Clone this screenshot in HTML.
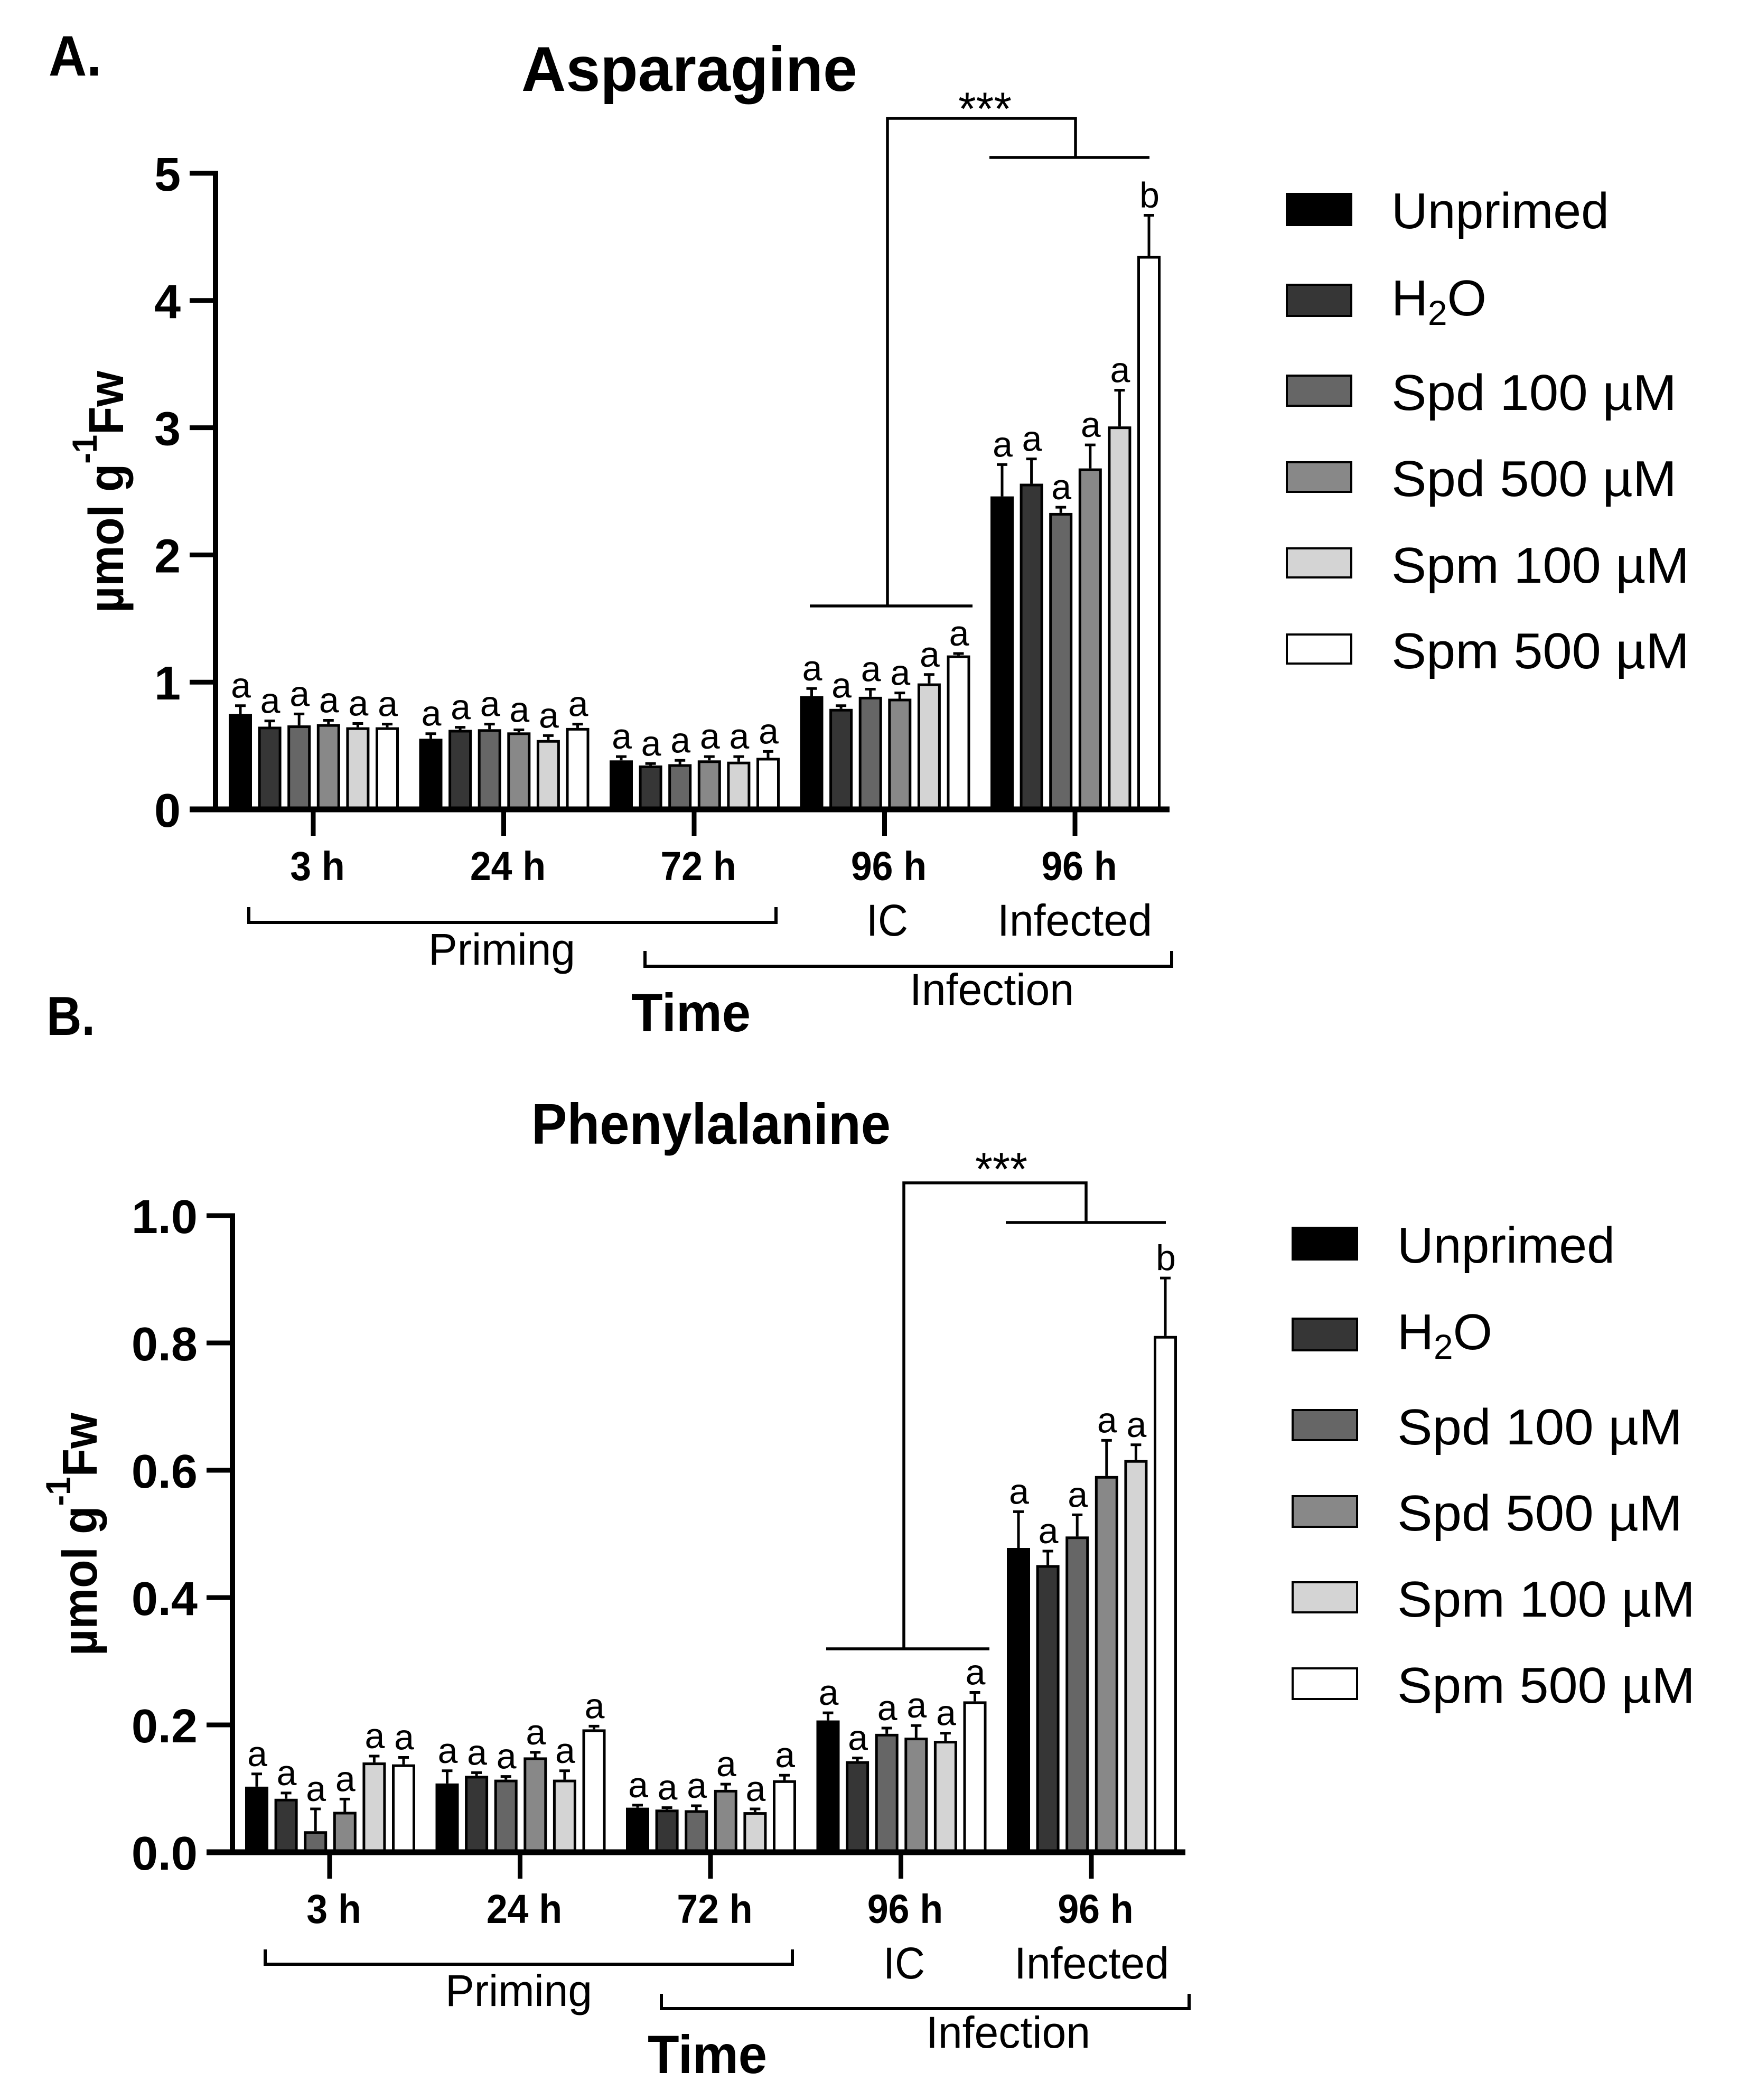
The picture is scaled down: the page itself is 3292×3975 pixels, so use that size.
<!DOCTYPE html>
<html lang="en">
<head>
<meta charset="utf-8">
<title>Asparagine and Phenylalanine</title>
<style>
html,body{margin:0;padding:0;background:#fff;}
svg{display:block;font-family:"Liberation Sans",Arial,sans-serif;}
.bold{font-weight:700;}
</style>
</head>
<body>
<svg id="figure" xmlns="http://www.w3.org/2000/svg" width="3292" height="3975" viewBox="0 0 3292 3975">
<rect width="3292" height="3975" fill="#fff"/>

<!-- Panel A static -->
<g id="panel-a">
  <text class="bold" x="92" y="143" font-size="108" textLength="100" lengthAdjust="spacingAndGlyphs">A.</text>
  <text class="bold" x="987" y="172" font-size="120" textLength="636" lengthAdjust="spacingAndGlyphs">Asparagine</text>
  <text class="bold" transform="translate(233 1160) rotate(-90)" font-size="93" textLength="458" lengthAdjust="spacingAndGlyphs">µmol g<tspan font-size="66" dy="-50">-1</tspan><tspan dy="50">Fw</tspan></text>
  <text class="bold" x="1195" y="1952" font-size="102" textLength="226" lengthAdjust="spacingAndGlyphs">Time</text>
  <path d="M471 1717V1746H1469V1717" fill="none" stroke="#000" stroke-width="6"/>
  <text x="811" y="1826" font-size="84" textLength="278" lengthAdjust="spacingAndGlyphs">Priming</text>
  <path d="M1221 1800V1829H2218V1800" fill="none" stroke="#000" stroke-width="6"/>
  <text x="1722" y="1902" font-size="84" textLength="311" lengthAdjust="spacingAndGlyphs">Infection</text>
  <text x="1640" y="1771" font-size="84" textLength="79" lengthAdjust="spacingAndGlyphs">IC</text>
  <text x="1888" y="1771" font-size="84" textLength="293" lengthAdjust="spacingAndGlyphs">Infected</text>
  <text x="1814" y="236" font-size="88" textLength="101" lengthAdjust="spacingAndGlyphs">***</text>
  <path d="M1533 1147H1841M1680 1147V224H2036V298M1873 298H2176" fill="none" stroke="#000" stroke-width="5.5"/>
  <g>
    <rect x="2436" y="367" width="122" height="59" fill="#000" stroke="#000" stroke-width="4"/>
    <text x="2634" y="432" font-size="96" textLength="412" lengthAdjust="spacingAndGlyphs">Unprimed</text>
    <rect x="2436" y="539" width="122" height="59" fill="#363636" stroke="#000" stroke-width="4"/>
    <text x="2634" y="597" font-size="96" textLength="180" lengthAdjust="spacingAndGlyphs">H<tspan font-size="66" dy="18">2</tspan><tspan dy="-18">O</tspan></text>
    <rect x="2436" y="711" width="122" height="57" fill="#666" stroke="#000" stroke-width="4"/>
    <text x="2634" y="776" font-size="96" textLength="540" lengthAdjust="spacingAndGlyphs">Spd 100 µM</text>
    <rect x="2436" y="875" width="122" height="56" fill="#888" stroke="#000" stroke-width="4"/>
    <text x="2634" y="939" font-size="96" textLength="540" lengthAdjust="spacingAndGlyphs">Spd 500 µM</text>
    <rect x="2436" y="1038" width="122" height="55" fill="#d4d4d4" stroke="#000" stroke-width="4"/>
    <text x="2634" y="1103" font-size="96" textLength="564" lengthAdjust="spacingAndGlyphs">Spm 100 µM</text>
    <rect x="2436" y="1201" width="122" height="55" fill="#fff" stroke="#000" stroke-width="4"/>
    <text x="2634" y="1265" font-size="96" textLength="564" lengthAdjust="spacingAndGlyphs">Spm 500 µM</text>
  </g>
</g>

<!-- Panel B static -->
<g id="panel-b">
  <text class="bold" x="88" y="1959" font-size="104" textLength="92" lengthAdjust="spacingAndGlyphs">B.</text>
  <text class="bold" x="1006" y="2165" font-size="109" textLength="680" lengthAdjust="spacingAndGlyphs">Phenylalanine</text>
  <text class="bold" transform="translate(183 3134) rotate(-90)" font-size="93" textLength="460" lengthAdjust="spacingAndGlyphs">µmol g<tspan font-size="66" dy="-50">-1</tspan><tspan dy="50">Fw</tspan></text>
  <text class="bold" x="1226" y="3924" font-size="102" textLength="226" lengthAdjust="spacingAndGlyphs">Time</text>
  <path d="M502 3690V3718H1500V3690" fill="none" stroke="#000" stroke-width="6"/>
  <text x="843" y="3797" font-size="84" textLength="278" lengthAdjust="spacingAndGlyphs">Priming</text>
  <path d="M1252 3774V3802H2251V3774" fill="none" stroke="#000" stroke-width="6"/>
  <text x="1753" y="3876" font-size="84" textLength="311" lengthAdjust="spacingAndGlyphs">Infection</text>
  <text x="1672" y="3745" font-size="84" textLength="79" lengthAdjust="spacingAndGlyphs">IC</text>
  <text x="1920" y="3745" font-size="84" textLength="293" lengthAdjust="spacingAndGlyphs">Infected</text>
  <text x="1846" y="2243" font-size="88" textLength="99" lengthAdjust="spacingAndGlyphs">***</text>
  <path d="M1564 3121H1873M1711 3121V2239H2056V2314M1904 2314H2207" fill="none" stroke="#000" stroke-width="5.5"/>
  <g>
    <rect x="2447" y="2324" width="122" height="60" fill="#000" stroke="#000" stroke-width="4"/>
    <text x="2645" y="2390" font-size="96" textLength="412" lengthAdjust="spacingAndGlyphs">Unprimed</text>
    <rect x="2447" y="2496" width="122" height="60" fill="#363636" stroke="#000" stroke-width="4"/>
    <text x="2645" y="2554" font-size="96" textLength="180" lengthAdjust="spacingAndGlyphs">H<tspan font-size="66" dy="18">2</tspan><tspan dy="-18">O</tspan></text>
    <rect x="2447" y="2669" width="122" height="57" fill="#666" stroke="#000" stroke-width="4"/>
    <text x="2645" y="2734" font-size="96" textLength="540" lengthAdjust="spacingAndGlyphs">Spd 100 µM</text>
    <rect x="2447" y="2832" width="122" height="58" fill="#888" stroke="#000" stroke-width="4"/>
    <text x="2645" y="2897" font-size="96" textLength="540" lengthAdjust="spacingAndGlyphs">Spd 500 µM</text>
    <rect x="2447" y="2995" width="122" height="57" fill="#d4d4d4" stroke="#000" stroke-width="4"/>
    <text x="2645" y="3060" font-size="96" textLength="564" lengthAdjust="spacingAndGlyphs">Spm 100 µM</text>
    <rect x="2447" y="3158" width="122" height="58" fill="#fff" stroke="#000" stroke-width="4"/>
    <text x="2645" y="3223" font-size="96" textLength="564" lengthAdjust="spacingAndGlyphs">Spm 500 µM</text>
  </g>
</g>

<g id="plot-a"></g>
<g id="plot-b"></g>
</svg>

<script>
// Shared categories
const timeLabels = ['3 h', '24 h', '72 h', '96 h', '96 h'];
const seriesNames = ['unprimed', 'h2o', 'spd-100', 'spd-500', 'spm-100', 'spm-500'];
const seriesFills = ['#000000', '#363636', '#666666', '#888888', '#d4d4d4', '#ffffff'];

// Asparagine: means by series across the five time points
const asnUnprimed = [0.75, 0.555, 0.385, 0.89, 2.46];
const asnH2o      = [0.65, 0.625, 0.345, 0.79, 2.56];
const asnSpd100   = [0.66, 0.63, 0.355, 0.885, 2.33];
const asnSpd500   = [0.67, 0.605, 0.385, 0.87, 2.68];
const asnSpm100   = [0.645, 0.545, 0.375, 0.99, 3.01];
const asnSpm500   = [0.645, 0.64, 0.405, 1.21, 4.35];
// Asparagine: error bar sizes
const asnUnprimedErr = [0.065, 0.04, 0.03, 0.06, 0.25];
const asnH2oErr      = [0.045, 0.02, 0.015, 0.025, 0.195];
const asnSpd100Err   = [0.09, 0.04, 0.03, 0.06, 0.045];
const asnSpd500Err   = [0.03, 0.02, 0.03, 0.045, 0.185];
const asnSpm100Err   = [0.03, 0.035, 0.04, 0.07, 0.285];
const asnSpm500Err   = [0.025, 0.03, 0.05, 0.015, 0.32];
const asnTicks = [0, 1, 2, 3, 4, 5];

// Phenylalanine: means by series
const pheUnprimed = [0.103, 0.108, 0.070, 0.207, 0.478];
const pheH2o      = [0.084, 0.120, 0.067, 0.143, 0.451];
const pheSpd100   = [0.033, 0.114, 0.066, 0.186, 0.496];
const pheSpd500   = [0.0635, 0.149, 0.098, 0.180, 0.591];
const pheSpm100   = [0.141, 0.114, 0.063, 0.175, 0.616];
const pheSpm500   = [0.138, 0.193, 0.113, 0.237, 0.811];
// Phenylalanine: error bar sizes
const pheUnprimedErr = [0.020, 0.020, 0.004, 0.012, 0.057];
const pheH2oErr      = [0.009, 0.005, 0.003, 0.005, 0.022];
const pheSpd100Err   = [0.035, 0.005, 0.007, 0.009, 0.034];
const pheSpd500Err   = [0.020, 0.008, 0.009, 0.019, 0.056];
const pheSpm100Err   = [0.010, 0.014, 0.005, 0.012, 0.024];
const pheSpm500Err   = [0.011, 0.005, 0.008, 0.014, 0.091];
const pheTicks = [0, 0.2, 0.4, 0.6, 0.8, 1.0];

// Significance letters: the last bar of the last group differs
const groupLetters = ['a', 'a', 'a', 'a', 'a'];
const lastGroupLetters = ['a', 'a', 'a', 'a', 'a', 'b'];

const SVGNS = 'http://www.w3.org/2000/svg';

function make(parent, tag, attrs, text) {
  const el = document.createElementNS(SVGNS, tag);
  for (const k in attrs) el.setAttribute(k, attrs[k]);
  if (text !== undefined) el.textContent = text;
  parent.appendChild(el);
  return el;
}

function drawChart(root, cfg) {
  const yScale = function (v) { return cfg.y0 - (v / cfg.yMax) * cfg.yHeight; };
  const barLeft = function (g, s) { return cfg.barStart + g * 360.5 + s * 55.6; };
  const tickX = function (g) { return cfg.barStart + 160 + g * 360.5; };
  const barWidth = 44;
  const stroke = 5;

  cfg.means.forEach(function (series, s) {
    series.forEach(function (v, g) {
      const left = barLeft(g, s);
      const top = yScale(v);
      const cx = left + barWidth / 2;
      const errTop = yScale(v + cfg.errs[s][g]);

      const whisker = make(root, 'path', {
        d: 'M' + cx + ' ' + top + 'V' + errTop + 'M' + (cx - 10) + ' ' + errTop + 'H' + (cx + 10),
        fill: 'none', stroke: '#000', 'stroke-width': stroke
      });
      
      

      const bar = make(root, 'rect', {
        x: left + stroke / 2, y: top + stroke / 2,
        width: barWidth - stroke, height: Math.max(0, cfg.y0 - top - stroke / 2),
        fill: seriesFills[s], stroke: '#000', 'stroke-width': stroke
      });
      
      

      const letter = g === series.length - 1 ? lastGroupLetters[s] : groupLetters[g];
      const mark = make(root, 'text', {
        x: cx + 1, y: errTop - 15, 'font-size': 68, 'text-anchor': 'middle'
      }, letter);
      
      
    });
  });

  // y axis
  const yAxis = make(root, 'line', {
    x1: cfg.axisX, x2: cfg.axisX, y1: yScale(cfg.yMax) - 4.5, y2: cfg.y0 + 5, stroke: '#000', 'stroke-width': 10
  });
  
  

  cfg.ticks.forEach(function (t) {
    const tick = make(root, 'line', {
      x1: cfg.axisX - 49, x2: cfg.axisX, y1: yScale(t), y2: yScale(t), stroke: '#000', 'stroke-width': 9
    });
    
    
    const label = make(root, 'text', {
      x: cfg.axisX - 66, y: yScale(t) + 33, 'font-size': 90, 'font-weight': 700, 'text-anchor': 'end'
    }, t.toFixed(cfg.decimals));
    
    
  });

  // x axis
  const xAxis = make(root, 'line', {
    x1: cfg.axisX - 49, x2: cfg.xEnd, y1: cfg.y0, y2: cfg.y0, stroke: '#000', 'stroke-width': 11
  });
  
  

  timeLabels.forEach(function (name, g) {
    const x = tickX(g);
    const tick = make(root, 'line', {
      x1: x, x2: x, y1: cfg.y0, y2: cfg.y0 + 50, stroke: '#000', 'stroke-width': 9
    });
    
    
    const label = make(root, 'text', {
      x: x + 8, y: cfg.y0 + 134, 'font-size': 77, 'font-weight': 700, 'text-anchor': 'middle',
      lengthAdjust: 'spacingAndGlyphs'
    }, name);
    
    
    label.setAttribute('textLength', (label.getComputedTextLength() * 0.93).toFixed(1));
  });
}

drawChart(document.getElementById('plot-a'), {
  means: [asnUnprimed, asnH2o, asnSpd100, asnSpd500, asnSpm100, asnSpm500],
  errs: [asnUnprimedErr, asnH2oErr, asnSpd100Err, asnSpd500Err, asnSpm100Err, asnSpm500Err],
  ticks: asnTicks, decimals: 0,
  y0: 1532, yMax: 5, yHeight: 1204,
  axisX: 408, xEnd: 2214, barStart: 433
});

drawChart(document.getElementById('plot-b'), {
  means: [pheUnprimed, pheH2o, pheSpd100, pheSpd500, pheSpm100, pheSpm500],
  errs: [pheUnprimedErr, pheH2oErr, pheSpd100Err, pheSpd500Err, pheSpm100Err, pheSpm500Err],
  ticks: pheTicks, decimals: 1,
  y0: 3506, yMax: 1, yHeight: 1205,
  axisX: 440, xEnd: 2244, barStart: 464
});
</script>
</body>
</html>
